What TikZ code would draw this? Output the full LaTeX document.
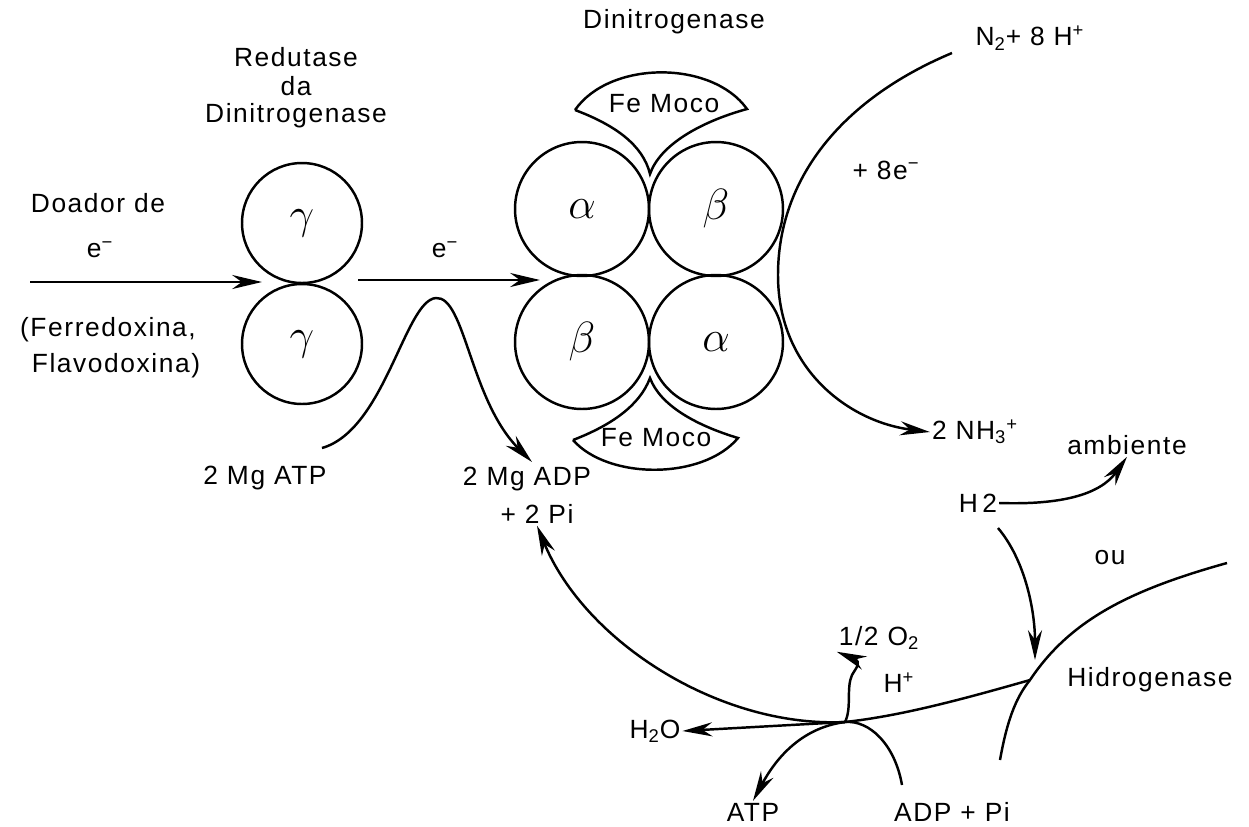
\documentclass[tikz,border=0pt]{standalone}
\usepackage{fontspec}
\setmainfont[LetterSpace=6]{Liberation Sans}
\usetikzlibrary{arrows.meta}
\tikzset{
  sub/.style={circle,draw,line width=1.4pt,minimum size=#1,inner sep=0pt,font=\fontsize{38}{38}\selectfont},
  lbl/.style={inner sep=1pt,font=\fontsize{15}{17}\selectfont},
  arr/.style={line width=1.4pt,-{Stealth[length=17pt,width=8pt]}},
  ln/.style={line width=1.4pt}
}
\begin{document}
\begin{tikzpicture}[x=0.02cm,y=-0.02cm]
  \useasboundingbox (0,0) rectangle (1249,826);
  % redutase
  \node[sub=2.4cm] (g1) at (302,223) {$\gamma$};
  \node[sub=2.4cm] (g2) at (302,344) {$\gamma$};
  \node[lbl] (red) at (296,57) {Redutase};
  \node[lbl] (da) at (296,86) {da};
  \node[lbl] (dred) at (296,116) {Dinitrogenase};
  \node[lbl] (doador) at (98,203) {Doador de};
  \node[lbl] (e1) at (100,250) {e\textsuperscript{−}};
  \node[lbl] (ferr) at (108,330) {(Ferredoxina,};
  \node[lbl] (flav) at (116,366) {Flavodoxina)};
  \coordinate (inL) at (30,282);
  \coordinate (inR) at (262,282);
  \draw[arr] (inL) -- (inR);
  % dinitrogenase
  \node[sub=2.68cm] (a1) at (582,209) {$\alpha$};
  \node[sub=2.68cm] (b1) at (716,209) {$\beta$};
  \node[sub=2.68cm] (b2) at (582,342) {$\beta$};
  \node[sub=2.68cm] (a2) at (716,342) {$\alpha$};
  \node[lbl] (dnit) at (674,22) {Dinitrogenase};
  \draw[ln] (575,110) .. controls (610,60) and (712,60) .. (747,109)
    .. controls (700,122) and (660,145) .. (650,174)
    .. controls (643,145) and (615,125) .. (575,110);
  \node[lbl] (fm1) at (664,104) {Fe Moco};
  \draw[ln] (573,440) .. controls (608,480) and (703,480) .. (738,438)
    .. controls (695,425) and (660,405) .. (650,378)
    .. controls (640,405) and (612,425) .. (573,440);
  \node[lbl] (fm2) at (656,438) {Fe Moco};
  \node[lbl] (e2) at (445,250) {e\textsuperscript{−}};
  \coordinate (eL) at (358,280);
  \coordinate (eR) at (540,280);
  \draw[arr] (eL) -- (eR);
  % ATP
  \node[lbl] (atp1) at (265,478) {2 Mg ATP};
  \node[lbl] (adp1) at (527,479) {2 Mg ADP};
  \node[lbl] (pi1) at (537,514) {+ 2 Pi};
  \coordinate (atpin) at (322,448);
  \coordinate (hump) at (436,298);
  \draw[arr] (atpin) .. controls (385,430) and (405,300) .. (hump)
    .. controls (465,296) and (470,400) .. (532,462);
  % N2
  \node[lbl] (n2) at (1030,38) {N\textsubscript{2}+ 8 H\textsuperscript{+}};
  \node[lbl] (e8) at (886,170) {+ 8e\textsuperscript{−}};
  \node[lbl] (nh3) at (975,432) {2 NH\textsubscript{3}\textsuperscript{+}};
  \draw[arr] (952,53) .. controls (840,100) and (778,180) .. (778,275)
    .. controls (778,370) and (850,422) .. (nh3.west);
  % H2
  \node[lbl] (h2) at (978,503) {H\,2};
  \node[lbl] (amb) at (1127,445) {ambiente};
  \node[lbl] (ou) at (1110,558) {ou};
  \node[lbl] (hid) at (1150,680) {Hidrogenase};
  \coordinate (hx) at (1030,680);
  \coordinate (c) at (845,722);
  \draw[arr] (h2.east) .. controls (1060,505) and (1100,495) .. (amb.south);
  \draw[arr] (998,528) .. controls (1025,560) and (1035,610) .. (1035,660);
  \draw[ln] (1000,760) .. controls (1008,715) and (1018,695) .. (hx)
    .. controls (1070,620) and (1130,590) .. (1227,563);
  \draw[ln] (hx) .. controls (960,700) and (900,716) .. (c);
  \draw[arr] (c) .. controls (720,728) and (585,642) .. (pi1.south);
  % H2O, O2, ATP
  \node[lbl] (h2o) at (655,731) {H\textsubscript{2}O};
  \node[lbl] (o2) at (879,638) {1/2 O\textsubscript{2}};
  \node[lbl] (hp) at (899,683) {H\textsuperscript{+}};
  \node[lbl] (atp2) at (753,812) {ATP};
  \node[lbl] (adp2) at (952,812) {ADP + Pi};
  \coordinate (adpin) at (902,785);
  \draw[arr] (c) -- (h2o.east);
  \draw[arr] (c) .. controls (852,708) and (846,688) .. (852,675)
    .. controls (856,668) and (862,662) .. (o2.south west);
  \draw[arr] (c) .. controls (800,728) and (775,760) .. (atp2.north);
  \draw[ln] (adpin) .. controls (895,745) and (870,720) .. (c);
\end{tikzpicture}
\end{document}
